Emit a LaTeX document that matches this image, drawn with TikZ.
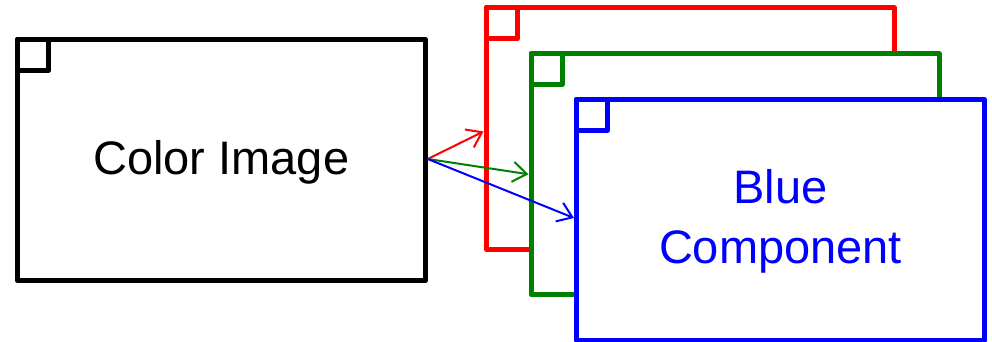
\documentclass[tikz,border=0pt]{standalone}
\usepackage{fontspec}
\setmainfont{Liberation Sans}
\usetikzlibrary{arrows.meta}
\definecolor{dgreen}{RGB}{0,128,0}
\tikzset{
  frame/.style={draw=#1, line width=5pt, fill=white, inner sep=0pt,
    minimum width=408pt, minimum height=241pt, line join=round},
  corner/.style={draw=#1, line width=5pt, inner sep=0pt, minimum size=31pt,
    anchor=north west, line join=round},
  conn/.style={draw=#1, line width=2pt, -{Straight Barb[length=14pt,width=20pt]}},
  lbl/.style={font=\fontsize{47}{60}\selectfont, align=center}
}
\begin{document}
\begin{tikzpicture}[x=1pt,y=-1pt]
\useasboundingbox (0,0) rectangle (992,342);
\node[frame=black] (img) at (221.25,160) {};
\node[corner=black] (imgc) at (img.north west) {};
\node[lbl] (imgt) at ([yshift=-2pt]img.center) {Color Image};
\node[frame=red] (red) at (690,128.5) {};
\node[corner=red] (redc) at (red.north west) {};
\node[frame=dgreen] (green) at (735,174.25) {};
\node[corner=dgreen] (greenc) at (green.north west) {};
\node[frame=blue] (blue) at (780.5,220) {};
\node[corner=blue] (bluec) at (blue.north west) {};
\node[lbl, text=blue] (bluet) at ([yshift=-1pt]blue.center) {Blue\\Component};
\draw[conn=red] ([yshift=1pt]img.east) -- ([yshift=-3pt]red.west);
\draw[conn=dgreen] ([yshift=1pt]img.east) -- (green.west);
\draw[conn=blue] ([yshift=1pt]img.east) -- ([yshift=2pt]blue.west);
\end{tikzpicture}
\end{document}
